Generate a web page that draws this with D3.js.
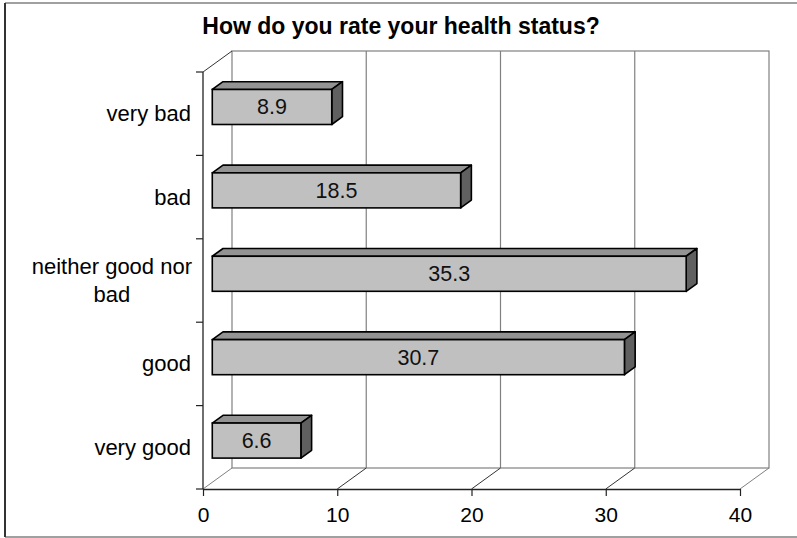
<!DOCTYPE html>
<html><head><meta charset="utf-8">
<script src="https://cdn.jsdelivr.net/npm/d3@7/dist/d3.min.js"></script>
<style>body{margin:0;background:#fff}svg{display:block}text{font-family:"Liberation Sans",Arial,sans-serif}</style>
</head><body>
<svg id="c" width="797" height="538"></svg>
<script>
const title = "How do you rate your health status?";
const categories = ["very bad","bad","neither good nor bad","good","very good"];
const categoryLines = [["very bad"],["bad"],["neither good nor","bad"],["good"],["very good"]];
const values = [8.9,18.5,35.3,30.7,6.6];
const valueLabels = ["8.9","18.5","35.3","30.7","6.6"];
const xTicks = [0,10,20,30,40];

const svg = d3.select("#c");
const W = 797, H = 538;
const DX = 29, DY = 21;          // full depth of the 3D box
const zf = 0.32, zb = 0.69;      // bar depth range
const x = d3.scaleLinear().domain([0,40]).range([203,740]);
const y = d3.scaleBand().domain(categories).range([72,489]).padding(0);
const barFrac = 0.42;

// outer border
svg.append("line").attr("x1",5).attr("y1",3).attr("x2",W).attr("y2",3).attr("stroke","#808080").attr("stroke-width",1.5);
svg.append("line").attr("x1",5).attr("y1",537).attr("x2",W).attr("y2",537).attr("stroke","#808080").attr("stroke-width",1.5);
svg.append("line").attr("x1",5).attr("y1",3).attr("x2",5).attr("y2",537).attr("stroke","#333").attr("stroke-width",2);

// title
svg.append("text").attr("x",401).attr("y",34).attr("text-anchor","middle")
  .attr("font-weight","bold").attr("font-size",23).attr("fill","#000").text(title);

const gray = "#808080";
const yTop = y.range()[0], yBot = y.range()[1];
// back wall
const g = svg.append("g");
g.append("rect").attr("x",x(0)+DX).attr("y",yTop-DY).attr("width",x(40)-x(0)).attr("height",yBot-yTop)
  .attr("fill","none").attr("stroke",gray).attr("stroke-width",1.2);
// gridlines on back wall
g.selectAll(".grid").data(xTicks.slice(1,-1)).join("line")
  .attr("x1",d=>x(d)+DX).attr("x2",d=>x(d)+DX).attr("y1",yTop-DY).attr("y2",yBot-DY)
  .attr("stroke",gray).attr("stroke-width",1.2);
// floor diagonals
g.selectAll(".fd").data(xTicks).join("line")
  .attr("x1",d=>x(d)).attr("y1",yBot).attr("x2",d=>x(d)+DX).attr("y2",yBot-DY)
  .attr("stroke",(d,i)=> (i===0||i===xTicks.length-1)?gray:"#333").attr("stroke-width",1);
// left wall top diagonal
g.append("line").attr("x1",x(0)).attr("y1",yTop).attr("x2",x(0)+DX).attr("y2",yTop-DY)
  .attr("stroke","#333").attr("stroke-width",1);

// x axis (front floor edge)
const xAxis = d3.axisBottom(x).tickValues(xTicks).tickSize(7).tickPadding(11).tickSizeOuter(0).tickFormat(d3.format("d"));
const ga = svg.append("g").attr("transform",`translate(0,${yBot})`).call(xAxis);
ga.select(".domain").attr("stroke","#222").attr("stroke-width",1.3);
ga.selectAll(".tick line").attr("stroke","#222").attr("stroke-width",1.2);
ga.selectAll(".tick text").attr("font-size",21).attr("fill","#000").attr("font-family","Liberation Sans, Arial, sans-serif");

// y axis line + boundary ticks
svg.append("line").attr("x1",x(0)).attr("x2",x(0)).attr("y1",yTop).attr("y2",yBot).attr("stroke","#222").attr("stroke-width",1.3);
const bounds = categories.map(c=>y(c)).concat([yBot]);
svg.selectAll(".yt").data(bounds).join("line")
  .attr("x1",x(0)-7).attr("x2",x(0)).attr("y1",d=>d).attr("y2",d=>d).attr("stroke","#222").attr("stroke-width",1.2);

// category labels
const labX = 191;
categories.forEach((c,i)=>{
  const lines = categoryLines[i];
  const cy = y(c)+y.bandwidth()/2;
  const lh = 28;
  const t = svg.append("text").attr("font-size",22).attr("fill","#000");
  lines.forEach((ln,j)=>{
    t.append("tspan").attr("x",0).attr("y",cy + (j-(lines.length-1)/2)*lh + 7.5).text(ln);
  });
  if(lines.length===1){
    t.attr("text-anchor","end").selectAll("tspan").attr("x",labX);
  } else {
    let w = 0; t.selectAll("tspan").each(function(){w=Math.max(w,this.getComputedTextLength());});
    t.attr("text-anchor","middle").selectAll("tspan").attr("x",labX + 1 - w/2);
  }
});

// bars
const bw = y.bandwidth()*barFrac;
const ox = (zb-zf)*DX, oy = (zb-zf)*DY;
const bars = svg.selectAll(".bar").data(categories.map((c,i)=>({c,v:values[i],l:valueLabels[i]}))).join("g");
bars.each(function(d){
  const gg = d3.select(this);
  const x0 = x(0)+zf*DX, x1 = x(d.v)+zf*DX;
  const y0 = y(d.c)+(y.bandwidth()-bw)/2 - zf*DY, y1 = y0+bw;
  // top face
  gg.append("path").attr("d",`M${x0},${y0}L${x0+ox},${y0-oy}L${x1+ox},${y0-oy}L${x1},${y0}Z`)
    .attr("fill","#939393").attr("stroke","#000").attr("stroke-width",1.6).attr("stroke-linejoin","round");
  // side face
  gg.append("path").attr("d",`M${x1},${y0}L${x1+ox},${y0-oy}L${x1+ox},${y1-oy}L${x1},${y1}Z`)
    .attr("fill","#606060").attr("stroke","#000").attr("stroke-width",1.6).attr("stroke-linejoin","round");
  // front face
  gg.append("rect").attr("x",x0).attr("y",y0).attr("width",x1-x0).attr("height",bw)
    .attr("fill","#c0c0c0").attr("stroke","#000").attr("stroke-width",1.6);
  gg.append("text").attr("x",(x0+x1)/2).attr("y",(y0+y1)/2+7.5).attr("text-anchor","middle")
    .attr("font-size",21.5).attr("fill","#111").text(d.l);
});
</script>
</body></html>
